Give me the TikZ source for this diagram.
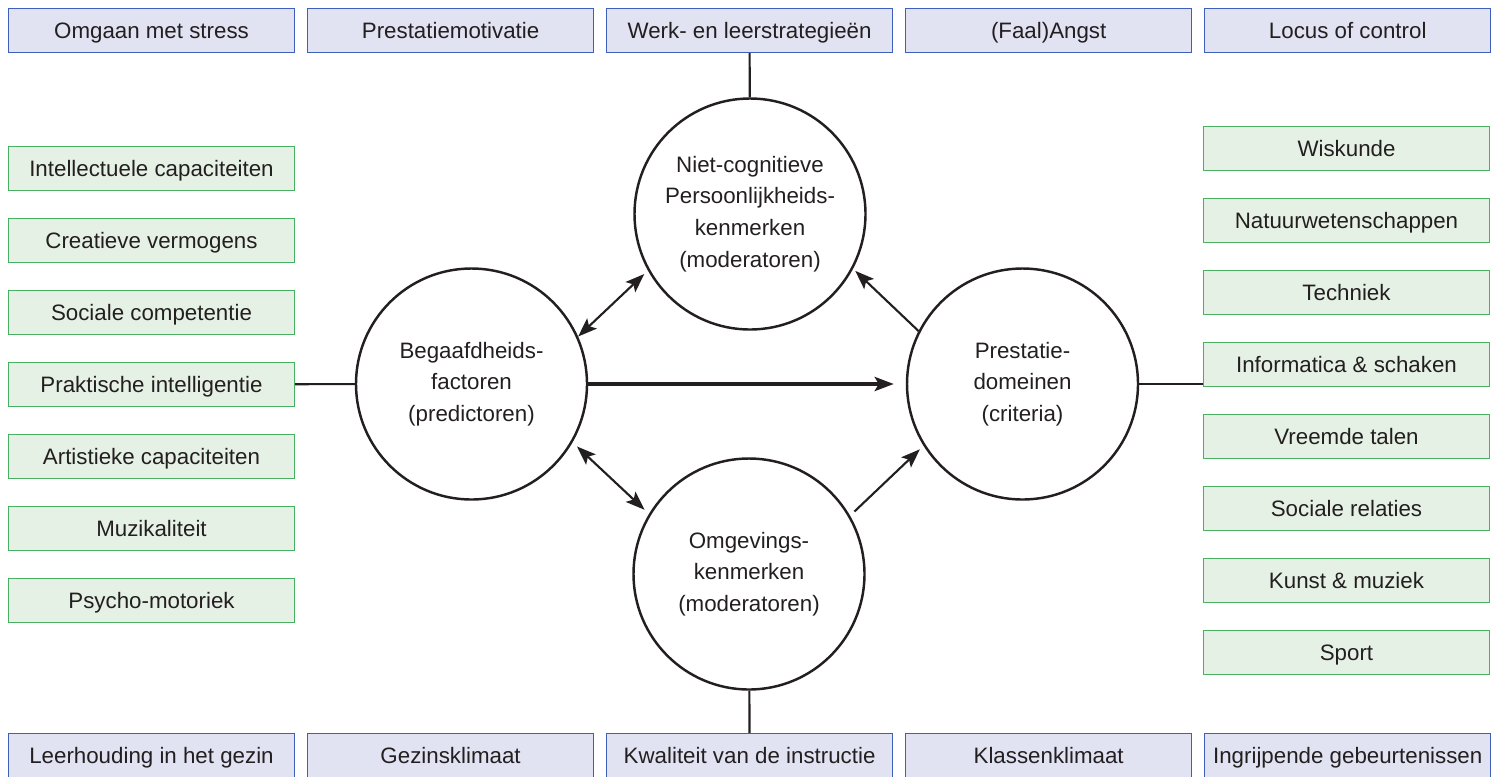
\documentclass[tikz,border=0pt]{standalone}
\usepackage{fontspec}
\setmainfont{Liberation Sans}
\usepackage{tikz}
\usetikzlibrary{positioning,arrows.meta}
\definecolor{envblue}{RGB}{225,227,242}
\definecolor{envedge}{RGB}{62,96,186}
\definecolor{talentgreen}{RGB}{230,241,229}
\definecolor{talentedge}{RGB}{72,176,96}
\definecolor{inkgray}{RGB}{35,31,32}

\begin{document}
\begin{tikzpicture}[node distance=5.38mm and 2.4mm,
    font=\fontsize{12.7}{18}\selectfont,text=inkgray,
    box/.style={rectangle,draw,line width=0.6pt,minimum width=5.72cm,minimum height=0.88cm,inner sep=0pt,text height=9.1pt,text depth=0pt,align=center},
    envbox/.style={box,draw=envedge,fill=envblue},
    talentbox/.style={box,draw=talentedge,fill=talentgreen},
    factor/.style={circle,draw=inkgray,line width=1.4pt,minimum size=4.62cm,inner sep=0pt,align=center},
    link/.style={draw=inkgray,line width=1.2pt},
    arrow/.style={-{Stealth[length=3.8mm,width=2.8mm,inset=0.8mm]},link},
    dblarrow/.style={{Stealth[length=3.8mm,width=2.8mm,inset=0.8mm]}-{Stealth[length=3.8mm,width=2.8mm,inset=0.8mm]},link}]

    \useasboundingbox (0,0) rectangle (29.96,-15.52);

    % personality traits
    \node[envbox] (stress) at (3.03,-0.61) {Omgaan met stress};
    \node[envbox,right=of stress] (motivatie) {Prestatiemotivatie};
    \node[envbox,right=of motivatie] (strategie) {Werk- en leerstrategieën};
    \node[envbox,right=of strategie] (angst) {(Faal)Angst};
    \node[envbox,right=of angst] (locus) {Locus of control};

    % talent factors
    \node[talentbox] (intellect) at (3.03,-3.37) {Intellectuele capaciteiten};
    \node[talentbox,below=of intellect] (creatief) {Creatieve vermogens};
    \node[talentbox,below=of creatief] (sociaal) {Sociale competentie};
    \node[talentbox,below=of sociaal] (praktisch) {Praktische intelligentie};
    \node[talentbox,below=of praktisch] (artistiek) {Artistieke capaciteiten};
    \node[talentbox,below=of artistiek] (muziek) {Muzikaliteit};
    \node[talentbox,below=of muziek] (motoriek) {Psycho-motoriek};

    % performance domains
    \node[talentbox] (wiskunde) at (26.93,-2.97) {Wiskunde};
    \node[talentbox,below=of wiskunde] (natuur) {Natuurwetenschappen};
    \node[talentbox,below=of natuur] (techniek) {Techniek};
    \node[talentbox,below=of techniek] (informatica) {Informatica \& schaken};
    \node[talentbox,below=of informatica] (talen) {Vreemde talen};
    \node[talentbox,below=of talen] (relaties) {Sociale relaties};
    \node[talentbox,below=of relaties] (kunst) {Kunst \& muziek};
    \node[talentbox,below=of kunst] (sport) {Sport};

    % environment
    \node[envbox] (gezin) at (3.03,-15.11) {Leerhouding in het gezin};
    \node[envbox,right=of gezin] (klimaat) {Gezinsklimaat};
    \node[envbox,right=of klimaat] (instructie) {Kwaliteit van de instructie};
    \node[envbox,right=of instructie] (klas) {Klassenklimaat};
    \node[envbox,right=of klas] (gebeurtenis) {Ingrijpende gebeurtenissen};

    \node[factor] (begaafd) at (9.43,-7.68) {Begaafdheids-\\factoren\\(predictoren)};
    \node[factor] (nietcog) at (15.0,-4.28) {Niet-cognitieve\\Persoonlijkheids-\\kenmerken\\(moderatoren)};
    \node[factor] (prest) at (20.45,-7.68) {Prestatie-\\domeinen\\(criteria)};
    \node[factor] (omgev) at (14.98,-11.48) {Omgevings-\\kenmerken\\(moderatoren)};

    \draw[link] (praktisch) -- (begaafd);
    \draw[link] (prest.east) -- (prest.east -| informatica.west);
    \draw[link] (strategie) -- (nietcog);
    \draw[link] (omgev) -- (instructie);

    \draw[arrow,line width=2.6pt,shorten >=2.4mm] (begaafd) -- (prest);
    \draw[dblarrow,shorten >=1mm] (begaafd.24) -- (nietcog.209);
    \draw[dblarrow,shorten <=1.2mm,shorten >=1.2mm] (begaafd.-30) -- (omgev.149);
    \draw[arrow,shorten >=0.6mm] (prest.153) -- (nietcog.332);
    \draw[arrow,shorten <=1.2mm,shorten >=1mm] (omgev.30) -- (prest.212);

\end{tikzpicture}
\end{document}
